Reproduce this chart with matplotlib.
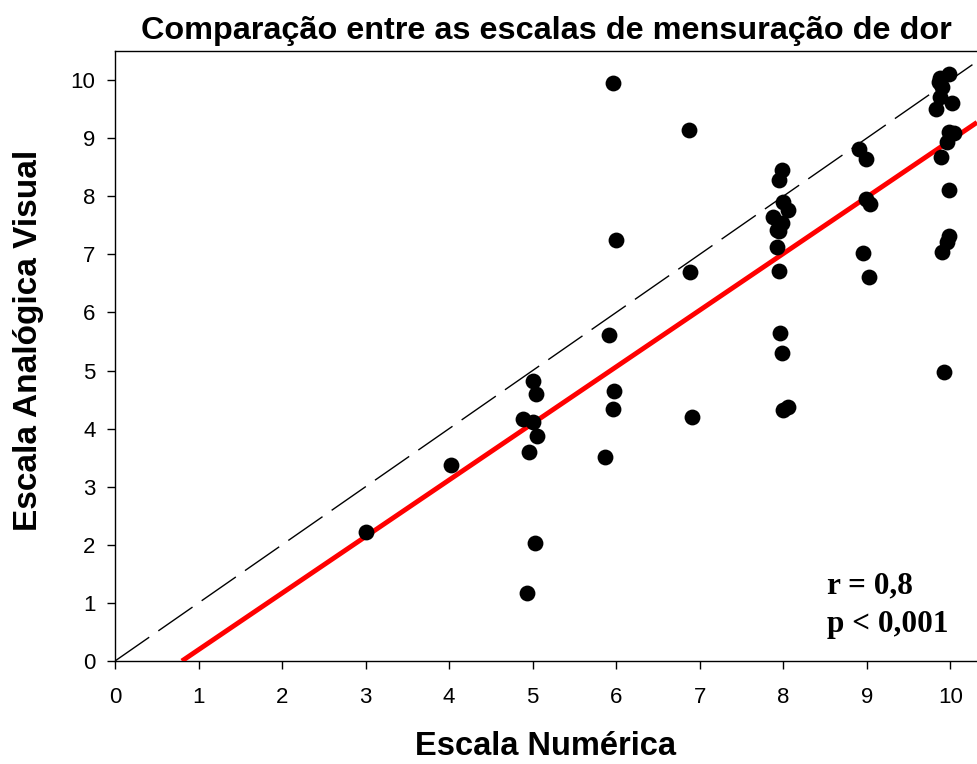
import numpy as np
import matplotlib
matplotlib.use("Agg")
import matplotlib.pyplot as plt

# Escala Numerica (x) vs Escala Analogica Visual (y)
en = [3.0, 4.02, 4.93, 5.03,
      5.0, 5.04, 4.89, 5.0, 5.05, 4.96,
      5.92, 5.97, 5.96, 5.87, 5.96, 6.0,
      6.87, 6.89, 6.91,
      7.98, 7.95, 8.0, 8.06, 7.88, 7.98, 7.92, 7.95, 7.93, 7.95, 7.96, 7.99, 8.0, 8.06,
      8.91, 8.99, 8.99, 9.04, 8.95, 9.03,
      9.98, 9.88, 9.86, 9.9, 9.88, 10.02, 9.83, 9.98, 10.04, 9.96, 9.89, 9.98, 9.98, 9.96, 9.9, 9.92]
eav = [2.22, 3.37, 1.17, 2.03,
       4.82, 4.6, 4.17, 4.11, 3.87, 3.6,
       5.61, 4.65, 4.33, 3.52, 9.95, 7.24,
       9.14, 6.70, 4.2,
       8.45, 8.28, 7.9, 7.76, 7.64, 7.54, 7.42, 7.40, 7.13, 6.71, 5.65, 5.30, 4.32, 4.37,
       8.82, 8.64, 7.95, 7.87, 7.02, 6.61,
       10.1, 10.04, 9.97, 9.88, 9.71, 9.6, 9.5, 9.1, 9.09, 8.93, 8.67, 8.11, 7.31, 7.21, 7.04, 4.97]

# regression line
slope = 0.974
intercept = -0.78

ticks = list(range(0, 11))

fig = plt.figure(figsize=(9.77, 7.64), dpi=100)
ax = fig.add_axes([0.1177, 0.1348, 0.8823, 0.7984])

xmax = 10.32
ymax = 10.5

ax.plot([0, xmax], [0, xmax], color="black", lw=1, dashes=(30, 8), zorder=2)
x0 = -intercept / slope
xr = np.array([x0, xmax])
ax.plot(xr, intercept + slope * xr, color="#ff0000", lw=3.5, zorder=3, solid_capstyle="butt")
ax.scatter(en, eav, s=130, color="black", zorder=4, linewidths=0)

ax.set_xlim(0, xmax)
ax.set_ylim(0, ymax)
ax.set_xticks(ticks)
ax.set_yticks(ticks)
ax.tick_params(direction="out", length=6, width=1, labelsize=16)
ax.tick_params(axis="x", pad=13)
ax.tick_params(axis="y", pad=8)
ax.spines["right"].set_visible(False)
for s in ["left", "bottom", "top"]:
    ax.spines[s].set_linewidth(1)

ax.set_title("Comparação entre as escalas de mensuração de dor", fontsize=23.3,
             fontweight="bold", family="Liberation Sans", pad=9)
ax.set_xlabel("Escala Numérica", fontsize=23.5, fontweight="bold", family="Liberation Sans", labelpad=16)
ax.set_ylabel("Escala Analógica Visual", fontsize=24, fontweight="bold", family="Liberation Sans")
ax.yaxis.set_label_coords(-0.082, 0.525)
for lab in ax.get_xticklabels() + ax.get_yticklabels():
    lab.set_family("Liberation Sans")

ax.text(8.53, 1.17, "r = 0,8", fontsize=22.5, fontweight="bold", family="Liberation Serif", va="baseline")
ax.text(8.53, 0.5, "p < 0,001", fontsize=22.5, fontweight="bold", family="Liberation Serif", va="baseline")

fig.savefig("out.png", dpi=100)
